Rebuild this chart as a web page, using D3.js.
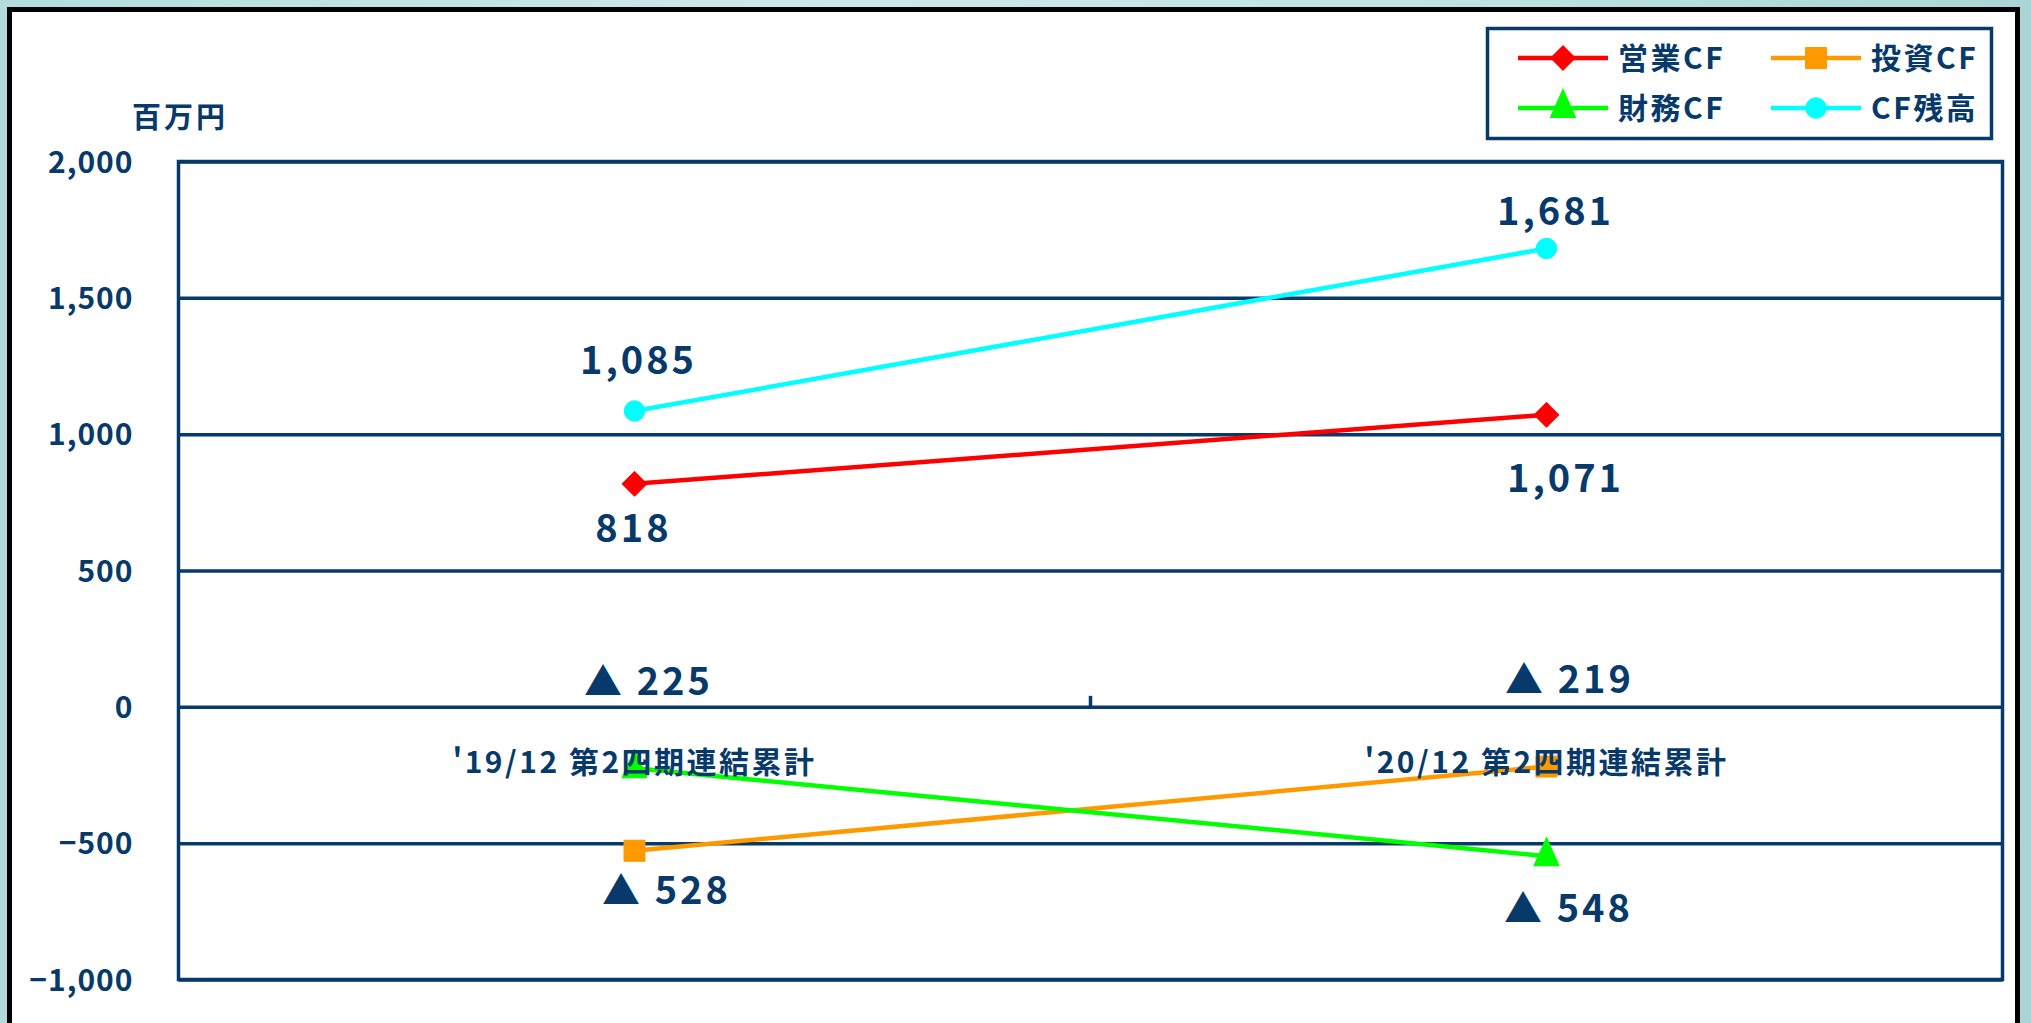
<!DOCTYPE html>
<html lang="ja">
<head>
<meta charset="utf-8">
<script src="https://cdn.jsdelivr.net/npm/d3@7"></script>
<style>
  html, body { margin: 0; padding: 0; }
  body { width: 2031px; height: 1023px; overflow: hidden;
         background: linear-gradient(90deg, #b4dcdc 0%, #cdeaea 40%, #bfe3e2 70%, #a9d6d4 100%); }
  svg { display: block; }
  text { font-family: "Noto Sans CJK JP", "Noto Sans", sans-serif; font-weight: bold; fill: #073a6b; }
</style>
</head>
<body>
<svg id="chart" width="2031" height="1023"></svg>
<script>
// ---- data ----
const categories = ["'19/12 第2四期連結累計", "'20/12 第2四期連結累計"];
const seriesNames = ["営業CF", "投資CF", "財務CF", "CF残高"];
const eigyoCF = [818, 1071];
const toshiCF = [-528, -219];
const zaimuCF = [-225, -548];
const cfZandaka = [1085, 1681];
const yTickValues = [-1000, -500, 0, 500, 1000, 1500, 2000];
const unitLabel = "百万円";

// ---- styling / layout ----
const navy = "#073a6b";
const seriesColors = ["#ff0000", "#ff9900", "#00ff00", "#00ffff"];
const seriesShapes = ["diamond", "square", "triangle", "circle"];
const seriesValues = [eigyoCF, toshiCF, zaimuCF, cfZandaka];
// data label offsets (px) relative to each point, per series, per category
const labelOffsets = [
  [[-1, 58], [19, 77]],
  [[32, 53], [23, -74]],
  [[14, -73], [22, 66]],
  [[4, -37], [9, -23]]
];

const plot = { left: 178.5, right: 2002.5, top: 161.5, bottom: 979.5 };
const svg = d3.select("#chart");

// outer frame
svg.append("rect").attr("x", 9.5).attr("y", 9.5).attr("width", 2008).attr("height", 1040)
  .attr("fill", "#ffffff").attr("stroke", "#000").attr("stroke-width", 5);

const x = d3.scaleBand().domain(categories).range([plot.left, plot.right]);
const y = d3.scaleLinear().domain([-1000, 2000]).range([plot.bottom, plot.top]);
const cx = c => x(c) + x.bandwidth() / 2;

// gridlines
const grid = svg.append("g").attr("transform", `translate(${plot.left},0)`)
  .call(d3.axisRight(y).tickValues(yTickValues).tickSize(plot.right - plot.left).tickFormat(""));
grid.select(".domain").remove();
grid.selectAll("line").attr("stroke", navy).attr("stroke-width", 3.5);

// plot border
svg.append("rect").attr("x", plot.left).attr("y", plot.top)
  .attr("width", plot.right - plot.left).attr("height", plot.bottom - plot.top)
  .attr("fill", "none").attr("stroke", navy).attr("stroke-width", 3.5);

// y axis labels
const yAxis = svg.append("g").attr("transform", `translate(${plot.left},0)`)
  .call(d3.axisLeft(y).tickValues(yTickValues).tickSize(0).tickPadding(45).tickFormat(d3.format(",")));
yAxis.select(".domain").remove();
yAxis.selectAll("text").attr("font-size", 30).attr("fill", navy)
  .style("font-family", "'Noto Sans CJK JP', sans-serif").style("font-weight", "bold")
  .attr("letter-spacing", 1).attr("dy", "0.36em");

// unit label
svg.append("text").attr("x", 180).attr("y", 128).attr("text-anchor", "middle")
  .attr("font-size", 29).attr("letter-spacing", 3).text(unitLabel);

// x axis category boundary ticks on zero line
const boundaries = categories.slice(1).map(c => x(c));
svg.append("g").selectAll("line").data(boundaries).join("line")
  .attr("x1", d => d).attr("x2", d => d)
  .attr("y1", y(0)).attr("y2", y(0) - 11)
  .attr("stroke", navy).attr("stroke-width", 3.5);

// series
const symbolFor = (shape, size) => {
  if (shape === "diamond") return d3.symbol().type(d3.symbolSquare).size(size)();
  if (shape === "square") return d3.symbol().type(d3.symbolSquare).size(size)();
  if (shape === "triangle") return d3.symbol().type(d3.symbolTriangle).size(size)();
  return d3.symbol().type(d3.symbolCircle).size(size)();
};
const symbolSize = { diamond: 300, square: 440, triangle: 270, circle: 330 };
const symbolRotate = { diamond: 45, square: 0, triangle: 0, circle: 0 };
const symbolScaleY = { diamond: 1, square: 1, triangle: 1.3, circle: 1 };

const line = d3.line().x((d, i) => cx(categories[i])).y(d => y(d));

seriesValues.forEach((vals, si) => {
  const g = svg.append("g");
  g.append("path").datum(vals).attr("d", line).attr("fill", "none")
    .attr("stroke", seriesColors[si]).attr("stroke-width", 4.5);
  const shape = seriesShapes[si];
  g.selectAll("path.m").data(vals).join("path").attr("class", "m")
    .attr("d", symbolFor(shape, symbolSize[shape]))
    .attr("transform", (d, i) => `translate(${cx(categories[i])},${y(d)}) rotate(${symbolRotate[shape]}) scale(1,${symbolScaleY[shape]})`)
    .attr("fill", seriesColors[si]).attr("stroke", seriesColors[si]).attr("stroke-width", 1).attr("stroke-linejoin", "round");
});

// data labels
const fmt = v => (v < 0 ? "▲ " : "") + d3.format(",")(Math.abs(v));
seriesValues.forEach((vals, si) => {
  svg.append("g").selectAll("text").data(vals).join("text")
    .attr("x", (d, i) => cx(categories[i]) + labelOffsets[si][i][0])
    .attr("y", (d, i) => y(d) + labelOffsets[si][i][1])
    .attr("text-anchor", "middle").attr("font-size", 38).attr("letter-spacing", 3)
    .text(d => fmt(d));
});

// category labels
svg.append("g").selectAll("text").data(categories).join("text")
  .attr("x", d => cx(d)).attr("y", y(0) + 66)
  .attr("text-anchor", "middle").attr("font-size", 30).attr("letter-spacing", 2.5)
  .text(d => d);

// legend
const legend = svg.append("g");
legend.append("rect").attr("x", 1487.5).attr("y", 28.5).attr("width", 504).attr("height", 110)
  .attr("fill", "#fff").attr("stroke", navy).attr("stroke-width", 3.5);
const legendPos = [[1518, 58], [1771, 58], [1518, 108], [1771, 108]];
seriesNames.forEach((name, si) => {
  const [lx, ly] = legendPos[si];
  const shape = seriesShapes[si];
  legend.append("line").attr("x1", lx).attr("x2", lx + 90).attr("y1", ly).attr("y2", ly)
    .attr("stroke", seriesColors[si]).attr("stroke-width", 4.5);
  legend.append("path").attr("d", symbolFor(shape, symbolSize[shape]))
    .attr("transform", `translate(${lx + 45},${ly}) rotate(${symbolRotate[shape]}) scale(1,${symbolScaleY[shape]})`)
    .attr("fill", seriesColors[si]).attr("stroke", seriesColors[si]).attr("stroke-width", 1);
  legend.append("text").attr("x", lx + 100).attr("y", ly + 11).attr("font-size", 30)
    .attr("letter-spacing", 2.5).text(name);
});
</script>
</body>
</html>
